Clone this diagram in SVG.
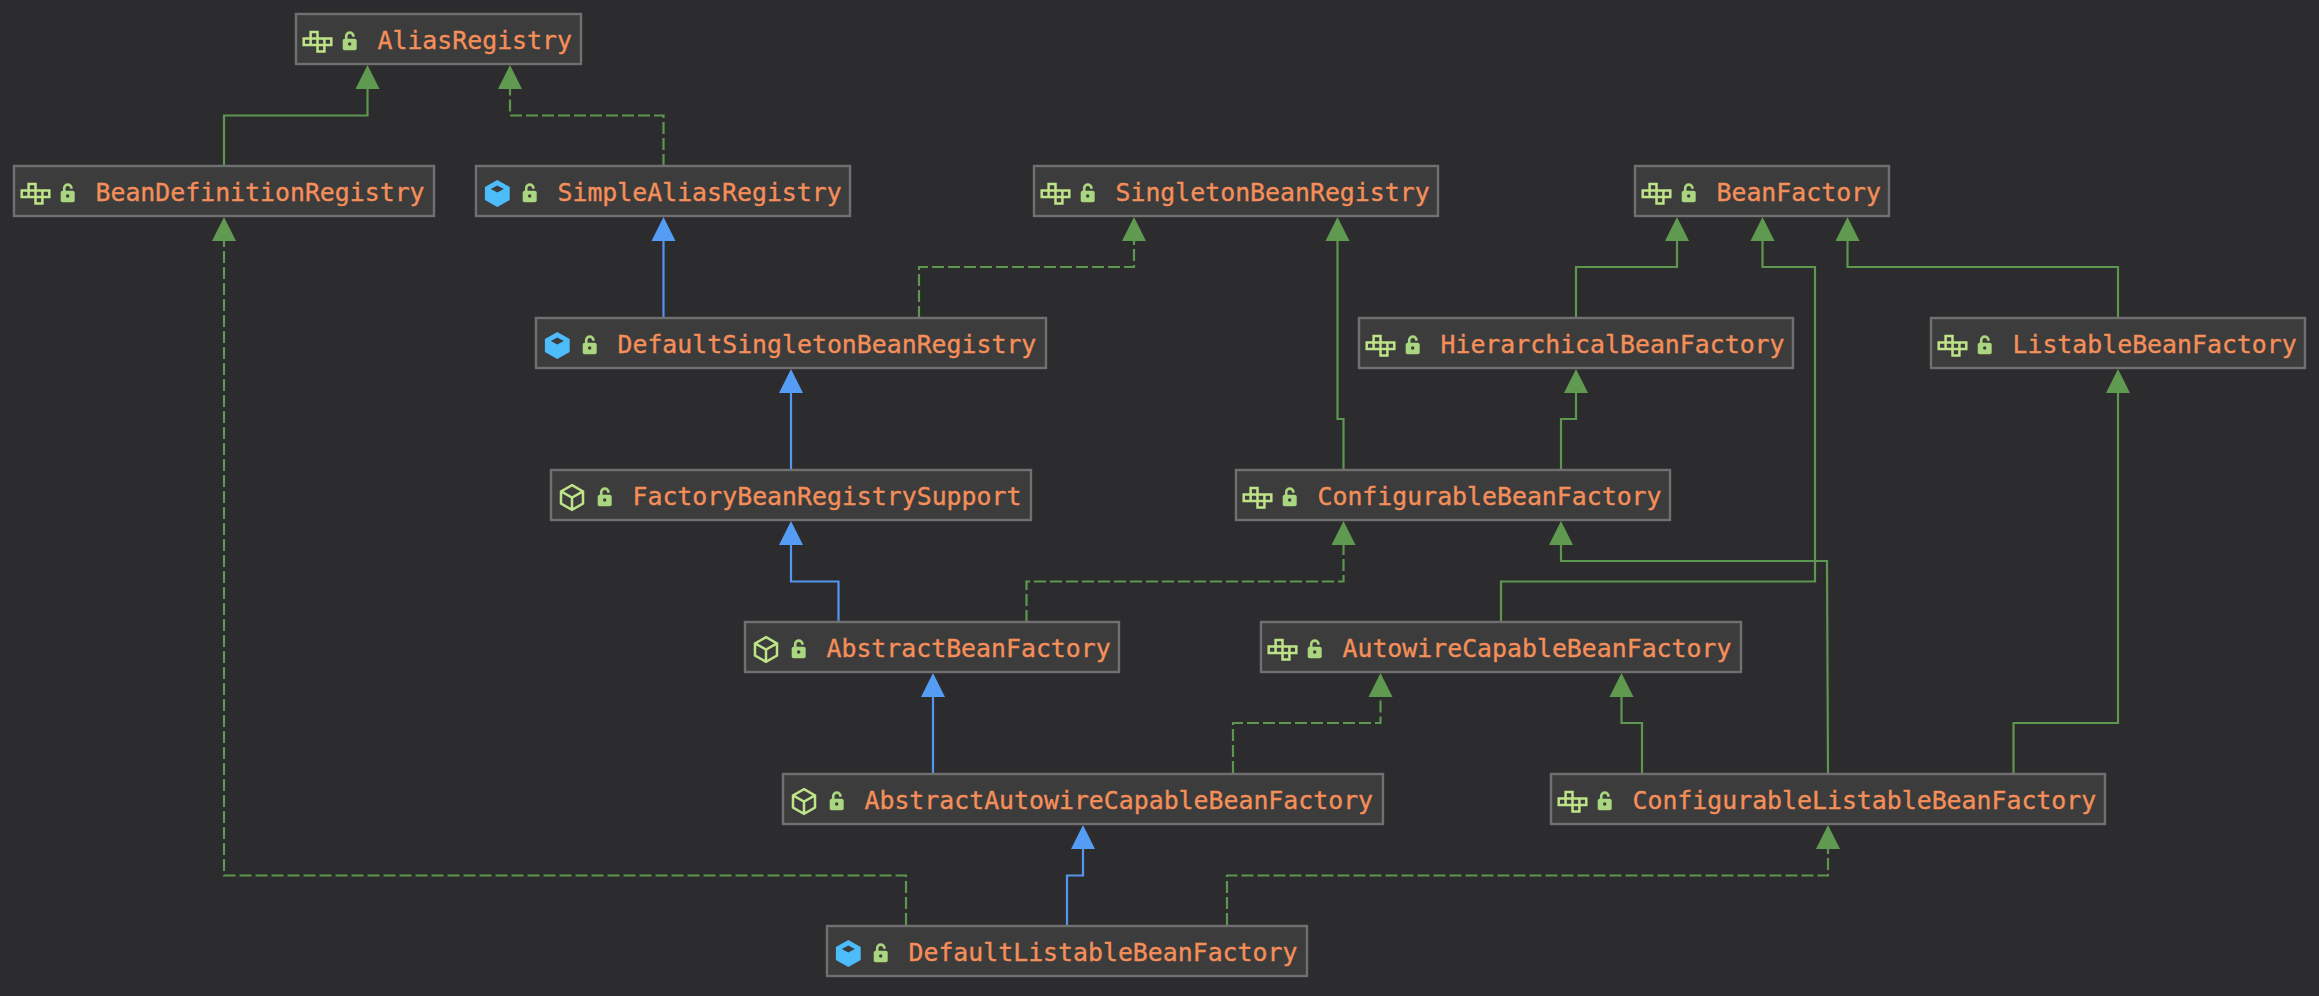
<svg xmlns="http://www.w3.org/2000/svg" width="2319" height="996" viewBox="0 0 2319 996">
<style>
.box{fill:#3c3c3c;stroke:#707070;stroke-width:2.4}
.t{font-family:"DejaVu Sans Mono","Liberation Mono",monospace;font-size:24.85px;fill:#f58f5a;stroke:#f58f5a;stroke-width:.35}
.c{fill:none;stroke-width:2.2}
.g{stroke:#5d9650}
.b{stroke:#5595ee}
.d{stroke-dasharray:12 4}
.ic{fill:none;stroke:#bfe388;stroke-width:2.5}
</style>
<defs>
<marker id="ag" markerUnits="userSpaceOnUse" markerWidth="26" markerHeight="26" refX="12" refY="24" orient="0" overflow="visible"><path d="M0 24L12 0L24 24Z" fill="#5f9a50"/></marker>
<marker id="ab" markerUnits="userSpaceOnUse" markerWidth="26" markerHeight="26" refX="12" refY="24" orient="0" overflow="visible"><path d="M0 24L12 0L24 24Z" fill="#559cf5"/></marker>
<g id="lock"><path d="M50.2 26V22.2a3.6 3.6 0 0 1 7.2 0v.5" fill="none" stroke="#a9d67f" stroke-width="2.6"/><rect x="46.7" y="24.8" width="14" height="11.4" rx="2" fill="#a9d67f"/><circle cx="53.7" cy="30" r="1.7" fill="#3c3c3c"/></g>
<g id="iface"><path class="ic" d="M14.6 17.9h6.9v6.5h-6.9zM7.7 24.4h27.6v6.6h-27.6zM14.6 24.4v6.6M21.5 24.4v6.6M28.4 24.4v6.6M21.5 31h6.9v6.5h-6.9z"/><use href="#lock"/></g>
<g id="cls"><path d="M21.3 14L33.7 20.9V34.1L21.3 41L8.9 34.1V20.9Z" fill="#4dbcfb"/><path d="M21.3 19.6L27.8 23L21.3 26.4L14.8 23Z" fill="#3c3c3c"/><use href="#lock"/></g>
<g id="abs"><path class="ic" d="M21 15.2L32 21.4V33.6L21 39.8L10 33.6V21.4ZM10 21.4L21 27.5L32 21.4M21 27.5V39.8"/><use href="#lock"/></g>
</defs>
<rect width="2319" height="996" fill="#2c2b2e"/>
<g id="connectors">
<path class="c g" marker-end="url(#ag)" d="M224 166V115.5H367.5V89"/>
<path class="c g d" marker-end="url(#ag)" d="M663.5 166V115.5H510V89"/>
<path class="c b" marker-end="url(#ab)" d="M663.5 318V241"/>
<path class="c g d" marker-end="url(#ag)" d="M906 925V875.5H224V241"/>
<path class="c g d" marker-end="url(#ag)" d="M919 318V267H1134V241"/>
<path class="c b" marker-end="url(#ab)" d="M791 470V393"/>
<path class="c b" marker-end="url(#ab)" d="M838.5 622V581.5H791V545"/>
<path class="c g d" marker-end="url(#ag)" d="M1026.5 622V581.5H1343.5V545"/>
<path class="c g" marker-end="url(#ag)" d="M1343.5 470V419H1337.5V241"/>
<path class="c g" marker-end="url(#ag)" d="M1561 470V419H1576V393"/>
<path class="c g" marker-end="url(#ag)" d="M1576 318V267H1677V241"/>
<path class="c g" marker-end="url(#ag)" d="M1501 622V581.5H1815V267H1762.5V241"/>
<path class="c g" marker-end="url(#ag)" d="M2118 318V267H1847.5V241"/>
<path class="c g" marker-end="url(#ag)" d="M2013.5 773V723H2118V393"/>
<path class="c g" marker-end="url(#ag)" d="M1828 773L1827 561H1561V545"/>
<path class="c g" marker-end="url(#ag)" d="M1642 773V723H1621.5V697"/>
<path class="c g d" marker-end="url(#ag)" d="M1233 773V723H1380.5V697"/>
<path class="c b" marker-end="url(#ab)" d="M933 773V697"/>
<path class="c b" marker-end="url(#ab)" d="M1067 925V875.5H1083V849"/>
<path class="c g d" marker-end="url(#ag)" d="M1227 925V875.5H1828V849"/>
</g>
<g id="AliasRegistry" transform="translate(296 14)"><rect class="box" width="285" height="50"/><use href="#iface"/><text class="t" x="81.5" y="34.5">AliasRegistry</text></g>
<g id="BeanDefinitionRegistry" transform="translate(14 166)"><rect class="box" width="420" height="50"/><use href="#iface"/><text class="t" x="81.5" y="34.5">BeanDefinitionRegistry</text></g>
<g id="SimpleAliasRegistry" transform="translate(476 166)"><rect class="box" width="374" height="50"/><use href="#cls"/><text class="t" x="81.5" y="34.5">SimpleAliasRegistry</text></g>
<g id="SingletonBeanRegistry" transform="translate(1034 166)"><rect class="box" width="404" height="50"/><use href="#iface"/><text class="t" x="81.5" y="34.5">SingletonBeanRegistry</text></g>
<g id="BeanFactory" transform="translate(1635 166)"><rect class="box" width="254" height="50"/><use href="#iface"/><text class="t" x="81.5" y="34.5">BeanFactory</text></g>
<g id="DefaultSingletonBeanRegistry" transform="translate(536 318)"><rect class="box" width="510" height="50"/><use href="#cls"/><text class="t" x="81.5" y="34.5">DefaultSingletonBeanRegistry</text></g>
<g id="HierarchicalBeanFactory" transform="translate(1359 318)"><rect class="box" width="434" height="50"/><use href="#iface"/><text class="t" x="81.5" y="34.5">HierarchicalBeanFactory</text></g>
<g id="ListableBeanFactory" transform="translate(1931 318)"><rect class="box" width="374" height="50"/><use href="#iface"/><text class="t" x="81.5" y="34.5">ListableBeanFactory</text></g>
<g id="FactoryBeanRegistrySupport" transform="translate(551 470)"><rect class="box" width="480" height="50"/><use href="#abs"/><text class="t" x="81.5" y="34.5">FactoryBeanRegistrySupport</text></g>
<g id="ConfigurableBeanFactory" transform="translate(1236 470)"><rect class="box" width="434" height="50"/><use href="#iface"/><text class="t" x="81.5" y="34.5">ConfigurableBeanFactory</text></g>
<g id="AbstractBeanFactory" transform="translate(745 622)"><rect class="box" width="374" height="50"/><use href="#abs"/><text class="t" x="81.5" y="34.5">AbstractBeanFactory</text></g>
<g id="AutowireCapableBeanFactory" transform="translate(1261 622)"><rect class="box" width="480" height="50"/><use href="#iface"/><text class="t" x="81.5" y="34.5">AutowireCapableBeanFactory</text></g>
<g id="AbstractAutowireCapableBeanFactory" transform="translate(783 774)"><rect class="box" width="600" height="50"/><use href="#abs"/><text class="t" x="81.5" y="34.5">AbstractAutowireCapableBeanFactory</text></g>
<g id="ConfigurableListableBeanFactory" transform="translate(1551 774)"><rect class="box" width="554" height="50"/><use href="#iface"/><text class="t" x="81.5" y="34.5">ConfigurableListableBeanFactory</text></g>
<g id="DefaultListableBeanFactory" transform="translate(827 926)"><rect class="box" width="480" height="50"/><use href="#cls"/><text class="t" x="81.5" y="34.5">DefaultListableBeanFactory</text></g>
</svg>
